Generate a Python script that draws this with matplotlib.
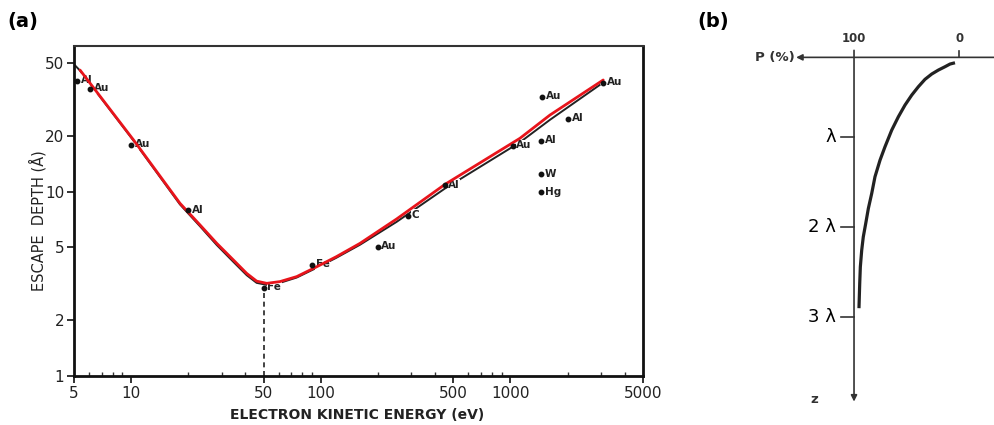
import matplotlib
matplotlib.use("Agg")
import matplotlib.pyplot as plt

# panel (a): escape depth data points
point_energy = [5.2, 6.1, 10, 20, 50, 90, 200, 290, 450, 1030, 1470, 2020, 1450, 1450, 1450, 3080]
point_depth = [40, 36, 17.9, 7.9, 3.0, 4.0, 5.0, 7.4, 10.8, 17.7, 32.7, 24.7, 18.8, 12.4, 9.9, 39.0]
point_names = ["Al", "Au", "Au", "Al", "Fe", "Fe", "Au", "C", "Al", "Au", "Au", "Al", "Al", "W", "Hg", "Au"]

# red fitted curve
red_energy = [5.38, 10.3, 18.1, 23.1, 28.3, 34.6, 40.7, 45.9, 51.9, 60.9, 74.7, 95.1, 121, 161, 251, 452, 1122, 1615, 3085]
red_depth = [45.6, 19.05, 8.64, 6.59, 5.24, 4.26, 3.6, 3.27, 3.18, 3.25, 3.46, 3.91, 4.44, 5.24, 7.1, 10.95, 19.45, 26.0, 40.3]

# original black curve (mostly under the red one)
black_energy = [5.0, 5.38, 10.3, 18.1, 23.1, 28.3, 34.6, 40.7, 45.9, 51.9, 60.9, 74.7, 95.1, 121, 161, 251, 452, 1122, 1615, 2950]
black_depth = [49, 45.3, 18.9, 8.52, 6.48, 5.13, 4.16, 3.52, 3.2, 3.12, 3.2, 3.42, 3.86, 4.38, 5.15, 6.85, 10.4, 18.5, 24.5, 37.8]

x_ticks = [5, 10, 50, 100, 500, 1000, 5000]
y_ticks = [1, 2, 5, 10, 20, 50]

# panel (b): sketch of P(%) against depth z (in units of lambda)
curve_p = [4.1, 8.8, 13.6, 19.9, 26.2, 32.6, 38.9, 45.2, 51.6, 57.9, 64.2, 70.6, 75.3, 80.1,
           83.2, 86.4, 88.9, 91.2, 92.7, 94.0, 94.6, 95.3]
curve_z = [0.178, 0.192, 0.222, 0.259, 0.303, 0.362, 0.444, 0.537, 0.648, 0.778, 0.926, 1.111,
           1.259, 1.444, 1.629, 1.796, 1.963, 2.111, 2.259, 2.444, 2.630, 2.903]
depth_ticks = [1, 2, 3]
depth_labels = ["λ", "2 λ", "3 λ"]

W, H = 995, 425
fig = plt.figure(figsize=(W / 100, H / 100), dpi=100)

ax = fig.add_axes([74 / W, 1 - 376 / H, (643 - 74) / W, (376 - 46) / H])
ax.set_xscale("log")
ax.set_yscale("log")
ax.set_xlim(5, 5000)
ax.set_ylim(1, 61.6)

ax.plot(black_energy, black_depth, color="#222222", lw=1.4, zorder=2)
ax.plot(red_energy, red_depth, color="#e8141b", lw=2.0, zorder=4,
        solid_capstyle="round", solid_joinstyle="round")
ax.plot([50, 50], [1, 3.0], color="#222222", lw=1.2, ls=(0, (3, 2.2)), zorder=2)
ax.plot(point_energy, point_depth, "o", color="#111111", ms=3.2, zorder=5, clip_on=False)

for e, d, name in zip(point_energy, point_depth, point_names):
    ax.annotate(name, (e, d), xytext=(2.5, 0.5), textcoords="offset points",
                fontsize=7.5, fontweight="bold", color="#222222", va="center", ha="left",
                bbox=dict(boxstyle="square,pad=0.05", fc="white", ec="none"), zorder=3)

ax.set_xticks(x_ticks)
ax.set_xticklabels([str(t) for t in x_ticks])
ax.set_yticks(y_ticks)
ax.set_yticklabels([str(t) for t in y_ticks])
ax.yaxis.set_minor_locator(matplotlib.ticker.NullLocator())
ax.xaxis.set_minor_formatter(matplotlib.ticker.NullFormatter())
ax.tick_params(axis="both", which="major", direction="out", length=5, width=1.3,
               labelsize=11, pad=2, colors="#222222")
ax.tick_params(axis="x", which="minor", direction="in", length=3, width=1.0, colors="#333333")
for side in ["left", "bottom", "right"]:
    ax.spines[side].set_linewidth(2.0)
    ax.spines[side].set_color("#111111")
ax.spines["top"].set_linewidth(1.5)
ax.spines["top"].set_color("#333333")

fig.text(357 / W, 1 - 415 / H, "ELECTRON KINETIC ENERGY (eV)", ha="center", va="center",
         fontsize=10, fontweight="bold", color="#222222")
fig.text(38 / W, 1 - 221 / H, "ESCAPE  DEPTH (Å)", ha="center", va="center",
         rotation=90, fontsize=10.5, color="#222222")
fig.text(7 / W, 1 - 22 / H, "(a)", ha="left", va="center", fontsize=14, fontweight="bold")
fig.text(697 / W, 1 - 22 / H, "(b)", ha="left", va="center", fontsize=14, fontweight="bold")

# panel (b)
bx = fig.add_axes([740 / W, 0, (995 - 740) / W, 1])
bx.set_xlim(208.3, -33.9)
bx.set_ylim(4.2, -0.519)
bx.axis("off")

line_col = "#333333"
z_axis = 0.118
bx.annotate("", xy=(155, z_axis), xytext=(-34, z_axis),
            arrowprops=dict(arrowstyle="-|>", lw=1.2, color=line_col, shrinkA=0, shrinkB=0,
                            mutation_scale=9))
bx.annotate("", xy=(100, 3.94), xytext=(100, 0.04),
            arrowprops=dict(arrowstyle="-|>", lw=1.2, color=line_col, shrinkA=0, shrinkB=0,
                            mutation_scale=9))
bx.plot([0, 0], [0.044, z_axis], color=line_col, lw=1.2)
for z, lab in zip(depth_ticks, depth_labels):
    bx.plot([100, 112.6], [z, z], color=line_col, lw=1.2)
    bx.text(117, z, lab, ha="right", va="center", fontsize=13, color="black")

bx.plot(curve_p, curve_z, color="#222222", lw=2.3, solid_capstyle="butt", solid_joinstyle="round")

bx.text(100, -0.097, "100", ha="center", va="center", fontsize=8.5, fontweight="bold", color="#333333")
bx.text(0, -0.097, "0", ha="center", va="center", fontsize=8.5, fontweight="bold", color="#333333")
bx.text(156, z_axis, "P (%)", ha="right", va="center", fontsize=9.5, fontweight="bold", color="#333333")
bx.text(137.5, 3.92, "z", ha="center", va="center", fontsize=9.5, fontweight="bold", color="#333333")

fig.savefig("out.png", dpi=100)
